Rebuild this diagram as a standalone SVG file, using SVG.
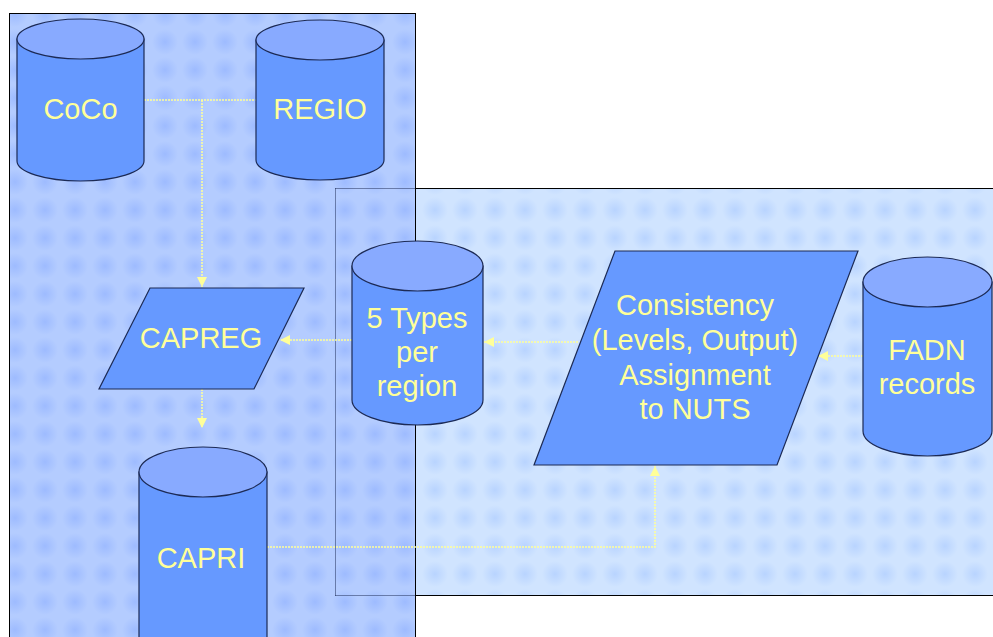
<svg xmlns="http://www.w3.org/2000/svg" width="993" height="637" viewBox="0 0 993 637">
<style>
.cyl-body{fill:#6699ff;stroke:#1c2a55;stroke-width:1.2}
.cyl-top{fill:#88aaff;stroke:#1c2a55;stroke-width:1.2}
.para{fill:#6699ff;stroke:#1c2a55;stroke-width:1.2}
.lbl{font-family:"Liberation Sans",Arial,sans-serif;font-size:29px;fill:#ffff99;text-anchor:middle}
.conn{fill:none;stroke:#ffff99;stroke-width:1.5;stroke-dasharray:2 1}
.dot{fill:none;stroke:#1c2a55;stroke-width:1;stroke-dasharray:1 1}
</style>
<defs>
<radialGradient id="gL"><stop offset="0" stop-color="#8fb0ff" stop-opacity="0.6"/><stop offset="1" stop-color="#8fb0ff" stop-opacity="0"/></radialGradient>
<radialGradient id="gR"><stop offset="0" stop-color="#a9c9ff" stop-opacity="0.6"/><stop offset="1" stop-color="#a9c9ff" stop-opacity="0"/></radialGradient>
<pattern id="pL" width="30" height="28" patternUnits="userSpaceOnUse">
<rect width="30" height="28" fill="#b4ccff"/>
<circle cx="15" cy="14" r="13" fill="url(#gL)"/>
</pattern>
<pattern id="pR" width="30" height="28" patternUnits="userSpaceOnUse">
<rect width="30" height="28" fill="#d0e4ff"/>
<circle cx="15" cy="14" r="13" fill="url(#gR)"/>
</pattern>
<marker id="arr" markerUnits="userSpaceOnUse" markerWidth="12" markerHeight="10" refX="10" refY="5" orient="auto">
<path d="M0,0 L10,5 L0,10 z" fill="#ffff99"/>
</marker>
</defs>
<rect width="993" height="637" fill="#ffffff"/>
<g id="panel-right">
<rect x="335.5" y="188.5" width="670" height="407" fill="url(#pR)" stroke="#000" stroke-width="1"/>
</g>
<g id="panel-left">
<rect x="9.5" y="13.5" width="406" height="640" fill="url(#pL)" stroke="#000" stroke-width="1"/>
<line class="dot" x1="335.5" y1="188.5" x2="415" y2="188.5"/>
<line class="dot" x1="335.5" y1="188.5" x2="335.5" y2="595.5"/>
<line class="dot" x1="335.5" y1="595.5" x2="415" y2="595.5"/>
</g>
<g id="connectors">
<polyline class="conn" points="144,100 256,100"/>
<polyline class="conn" points="202,100 202,287" marker-end="url(#arr)"/>
<polyline class="conn" points="202,389 202,428" marker-end="url(#arr)"/>
<polyline class="conn" points="352,340 280,340" marker-end="url(#arr)"/>
<polyline class="conn" points="578,342 484,342" marker-end="url(#arr)"/>
<polyline class="conn" points="863,356 818,356" marker-end="url(#arr)"/>
<polyline class="conn" points="267,547 655,547 655,466" marker-end="url(#arr)"/>
</g>
<g id="coco">
<path class="cyl-body" d="M17,39 L17,161 A63.5,20 0 0 0 144,161 L144,39 Z"/>
<ellipse class="cyl-top" cx="80.5" cy="39" rx="63.5" ry="20"/>
<text class="lbl" x="80.5" y="119">CoCo</text>
</g>
<g id="regio">
<path class="cyl-body" d="M256,40 L256,160 A64,20 0 0 0 384,160 L384,40 Z"/>
<ellipse class="cyl-top" cx="320" cy="40" rx="64" ry="20"/>
<text class="lbl" x="320" y="119">REGIO</text>
</g>
<g id="capreg">
<polygon class="para" points="150,288 304,288 254,389 99,389"/>
<text class="lbl" x="201" y="348">CAPREG</text>
</g>
<g id="capri">
<path class="cyl-body" d="M139,472 L139,640 L267,640 L267,472 Z"/>
<ellipse class="cyl-top" cx="203" cy="472" rx="64" ry="25"/>
<text class="lbl" x="201" y="568">CAPRI</text>
</g>
<g id="types">
<path class="cyl-body" d="M352,266 L352,400 A65.5,25 0 0 0 483,400 L483,266 Z"/>
<ellipse class="cyl-top" cx="417.5" cy="266" rx="65.5" ry="25"/>
<text class="lbl" x="417" y="328">5 Types</text>
<text class="lbl" x="417" y="362">per</text>
<text class="lbl" x="417" y="396">region</text>
</g>
<g id="consistency">
<polygon class="para" points="615,251 858,251 777,465 534,465"/>
<text class="lbl" x="695" y="315">Consistency</text>
<text class="lbl" x="695" y="350">(Levels, Output)</text>
<text class="lbl" x="695" y="385">Assignment</text>
<text class="lbl" x="695" y="419">to NUTS</text>
</g>
<g id="fadn">
<path class="cyl-body" d="M863,282 L863,431 A64.5,25 0 0 0 992,431 L992,282 Z"/>
<ellipse class="cyl-top" cx="927.5" cy="282" rx="64.5" ry="25"/>
<text class="lbl" x="927" y="360">FADN</text>
<text class="lbl" x="927" y="394">records</text>
</g>
</svg>
